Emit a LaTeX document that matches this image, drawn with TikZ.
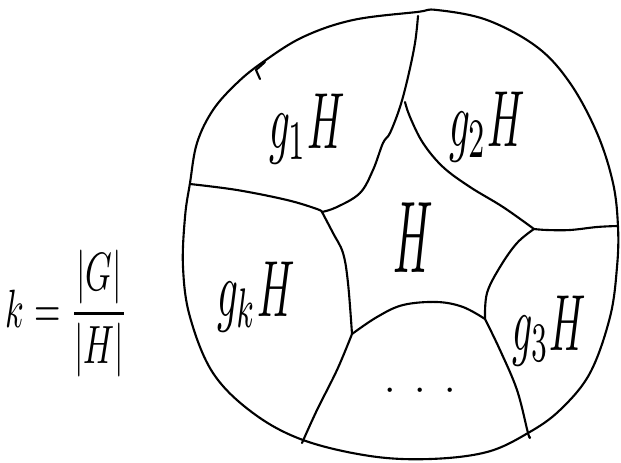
\documentclass[tikz,border=0pt]{standalone}
\usepackage{graphicx}
\usepackage{amsmath}
\begin{document}
\begin{tikzpicture}[x=0.03cm,y=-0.03cm,
  pen/.style={line width=1.8pt,line cap=round,line join=round},
  lab/.style={inner sep=0pt,anchor=base}]
\useasboundingbox (0,0) rectangle (621,462);
% outer blob
\draw[pen] plot[smooth cycle,tension=0.6] coordinates{
 (190,183) (197,143) (213,110) (237,83) (263,62) (303,37) (353,20) (417,12) (437,10)
 (487,20) (537,47) (570,83) (597,133) (613,183) (618,227) (617,267) (610,317)
 (590,373) (560,410) (528,433) (487,452) (430,459) (370,456) (303,440) (253,413)
 (213,373) (190,317) (183,267) (185,217)};
% small pen tick at upper left
\draw[pen] (265,62) -- (256,70) -- (260,79);
% named corners of the central region
\coordinate (A) at (322,212);
\coordinate (B) at (534,229);
\coordinate (C) at (485,319);
\coordinate (D) at (352,334);
% top divider to top-left vertex
\draw[pen] plot[smooth,tension=0.6] coordinates{(418,16) (415,43) (408,77) (400,107) (390,133) (383,143) (373,170) (360,193) (337,207) (A)};
% curve from top to right vertex
\draw[pen] plot[smooth,tension=0.6] coordinates{(405,102) (410,117) (423,143) (443,167) (470,187) (503,207) (B)};
% right divider
\draw[pen] plot[smooth,tension=0.6] coordinates{(B) (547,230) (570,230) (597,227) (617,226)};
% left divider
\draw[pen] plot[smooth,tension=0.6] coordinates{(190,184) (237,190) (287,200) (317,209) (A)};
% pentagon left edge
\draw[pen] plot[smooth,tension=0.6] coordinates{(A) (333,233) (343,253) (348,283) (D)};
% bottom edge
\draw[pen] plot[smooth,tension=0.6] coordinates{(D) (377,317) (403,305) (437,302) (463,307) (C)};
% lower right edge
\draw[pen] plot[smooth,tension=0.6] coordinates{(C) (487,293) (500,267) (517,243) (B)};
% bottom spokes
\draw[pen] plot[smooth,tension=0.6] coordinates{(D) (337,370) (317,410) (302,443)};
\draw[pen] plot[smooth,tension=0.6] coordinates{(C) (500,350) (517,390) (528,433) (530,437)};
% labels
\node[lab] (g1) at (307,148) {\scalebox{3.5}[6.8]{$g_1H$}};
\node[lab] (g2) at (487,146) {\scalebox{3.5}[6.8]{$g_2H$}};
\node[lab] (h) at (413,272) {\scalebox{3.7}[8.7]{$H$}};
\node[lab] (gk) at (256,316) {\scalebox{3.5}[6.8]{$g_kH$}};
\node[lab] (g3) at (549,350) {\scalebox{3.4}[6.8]{$g_3H$}};
\node[lab] (dots) at (420,400) {\scalebox{3.5}{$\cdot$}\hspace{0.55cm}\scalebox{3.5}{$\cdot$}\hspace{0.55cm}\scalebox{3.5}{$\cdot$}};
\node[lab] (k) at (67,327) {\scalebox{2.9}[4.6]{$k=\dfrac{|G|}{|H|}$}};
\end{tikzpicture}
\end{document}
